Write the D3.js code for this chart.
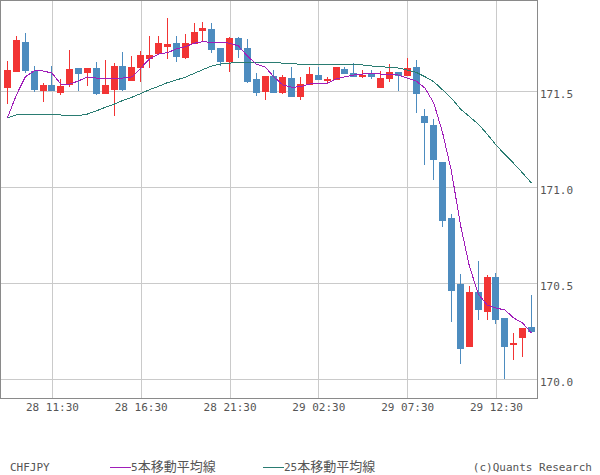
<!DOCTYPE html>
<html><head><meta charset="utf-8">
<script src="https://cdn.jsdelivr.net/npm/d3@7"></script>
<style>body{margin:0;background:#fff;} svg{display:block}</style>
</head><body><svg id="c" width="600" height="475"></svg>
<script>
const opens = [171.515,171.598,171.753,171.602,171.499,171.529,171.489,171.529,171.617,171.591,
171.617,171.482,171.503,171.628,171.550,171.617,171.664,171.690,171.727,171.747,
171.669,171.742,171.810,171.820,171.721,171.649,171.773,171.721,171.560,171.493,
171.576,171.487,171.565,171.467,171.529,171.581,171.555,171.555,171.612,171.591,
171.571,171.591,171.513,171.560,171.597,171.576,171.623,171.368,171.321,171.129,
170.837,170.494,170.167,170.453,170.349,170.531,170.318,170.177,170.213,170.271];
const highs = [171.654,171.784,171.799,171.628,171.539,171.628,171.560,171.711,171.617,171.617,
171.649,171.659,171.643,171.701,171.680,171.706,171.784,171.784,171.877,171.784,
171.794,171.851,171.857,171.851,171.721,171.779,171.779,171.768,171.591,171.576,
171.607,171.581,171.623,171.571,171.623,171.623,171.571,171.623,171.623,171.643,
171.607,171.607,171.602,171.638,171.597,171.669,171.659,171.404,171.352,171.129,
170.858,170.546,170.484,170.614,170.541,170.551,170.318,170.239,170.265,170.437];
const lows = [171.430,171.598,171.593,171.493,171.442,171.499,171.479,171.520,171.499,171.524,
171.477,171.482,171.368,171.499,171.550,171.545,171.617,171.690,171.664,171.649,
171.664,171.742,171.753,171.695,171.628,171.597,171.669,171.539,171.472,171.451,
171.487,171.482,171.467,171.451,171.529,171.555,171.539,171.555,171.586,171.571,
171.565,171.560,171.513,171.545,171.498,171.576,171.383,171.113,171.035,170.791,
170.297,170.078,170.167,170.307,170.307,170.286,170.000,170.099,170.115,170.239];
const closes = [171.607,171.763,171.603,171.503,171.529,171.499,171.524,171.612,171.586,171.617,
171.482,171.529,171.628,171.503,171.623,171.685,171.685,171.747,171.742,171.675,
171.747,171.805,171.825,171.711,171.649,171.773,171.711,171.545,171.487,171.576,
171.487,171.571,171.467,171.534,171.586,171.555,171.560,171.623,171.586,171.571,
171.581,171.571,171.565,171.597,171.576,171.617,171.482,171.331,171.139,170.822,
170.458,170.156,170.453,170.359,170.531,170.307,170.167,170.185,170.265,170.245];
const ma5 = [171.359,171.477,171.571,171.602,171.602,171.591,171.534,171.534,171.550,171.571,
171.565,171.565,171.565,171.565,171.571,171.617,171.664,171.690,171.697,171.716,
171.728,171.746,171.754,171.751,171.749,171.747,171.732,171.680,171.638,171.623,
171.571,171.529,171.517,171.520,171.534,171.539,171.538,171.560,171.572,171.581,
171.586,171.590,171.586,171.586,171.581,171.565,171.550,171.513,171.435,171.279,
171.077,170.801,170.588,170.442,170.385,170.369,170.359,170.317,170.291,170.239];
const ma25 = [171.359,171.373,171.377,171.377,171.375,171.373,171.373,171.368,171.369,171.378,
171.394,171.413,171.429,171.449,171.465,171.484,171.505,171.522,171.541,171.555,
171.569,171.589,171.609,171.628,171.638,171.643,171.645,171.645,171.645,171.645,
171.645,171.643,171.640,171.637,171.633,171.637,171.638,171.638,171.638,171.637,
171.633,171.628,171.624,171.621,171.617,171.607,171.595,171.572,171.546,171.503,
171.460,171.404,171.365,171.326,171.274,171.217,171.168,171.121,171.071,171.019];
const xTickIdx = [5,15,25,35,45,55];
const xTickLabels = ["28 11:30","28 16:30","28 21:30","29 02:30","29 07:30","29 12:30"];
const yTicks = [170.0,170.5,171.0,171.5];
const seriesNames = ["5本移動平均線","25本移動平均線"];
const symbol = "CHFJPY";
const credit = "(c)Quants Research";

const W = 537, H = 398;
const UP = "#f23434", DOWN = "#4d8cbf", C5 = "#a01eb9", C25 = "#2a7c72";
const MONO = "'DejaVu Sans Mono', monospace";
const svg = d3.select("#c");
svg.append("rect").attr("width",600).attr("height",475).attr("fill","#fff");

const x = d3.scaleLinear().domain([0, 59]).range([7.5, 531.5]);
const y = d3.scaleLinear().domain([169.901, 171.971]).range([H, 0]);

// grid
const gx = svg.append("g").attr("transform",`translate(0,${H})`)
  .call(d3.axisBottom(x).tickValues(xTickIdx).tickSize(-H).tickFormat(""));
gx.select(".domain").remove();
gx.selectAll("line").attr("stroke","#cacaca").attr("shape-rendering","crispEdges");
const gy = svg.append("g")
  .call(d3.axisLeft(y).tickValues(yTicks).tickSize(-W).tickFormat(""));
gy.select(".domain").remove();
gy.selectAll("line").attr("stroke","#cacaca").attr("shape-rendering","crispEdges");

// candles
const idx = d3.range(opens.length);
const cg = svg.append("g").attr("shape-rendering","crispEdges");
idx.forEach(i => {
  const o = opens[i], c = closes[i], h = highs[i], l = lows[i];
  const col = c >= o ? UP : DOWN;
  const X = Math.floor(x(i));
  cg.append("rect").attr("x", X).attr("width", 1)
    .attr("y", y(h)).attr("height", Math.max(1, y(l) - y(h))).attr("fill", col);
  const top = y(Math.max(o, c)), bot = y(Math.min(o, c));
  cg.append("rect").attr("x", X - 3).attr("width", 7)
    .attr("y", top).attr("height", Math.max(1.5, bot - top)).attr("fill", col);
});

// moving averages
const line = d3.line().x((d, i) => x(i)).y(d => y(d));
svg.append("path").datum(ma25).attr("d", line).attr("fill","none")
  .attr("stroke", C25).attr("stroke-width", 1).attr("shape-rendering","crispEdges");
svg.append("path").datum(ma5).attr("d", line).attr("fill","none")
  .attr("stroke", C5).attr("stroke-width", 1).attr("shape-rendering","crispEdges");

// frame
svg.append("rect").attr("x",0.5).attr("y",0.5).attr("width",W).attr("height",H)
  .attr("fill","none").attr("stroke","#8a8a8a");

// axes labels
const ay = svg.append("g").attr("transform",`translate(${W},0)`)
  .call(d3.axisRight(y).tickValues(yTicks).tickSize(0).tickPadding(3).tickFormat(d3.format(".1f")));
ay.select(".domain").remove();
ay.attr("font-family", MONO).attr("font-size", 11);
ay.selectAll("text").attr("fill","#555").attr("y", 3);

const ax = svg.append("g").attr("transform",`translate(0,${H})`)
  .call(d3.axisBottom(x).tickValues(xTickIdx).tickSize(0).tickPadding(5.5)
    .tickFormat((d, i) => xTickLabels[i]));
ax.select(".domain").remove();
ax.attr("font-family", MONO).attr("font-size", 11);
ax.selectAll("text").attr("fill","#555");

// legend
const lg = svg.append("g").attr("font-family", MONO).attr("font-size", 11).attr("fill","#555");
lg.append("text").attr("x", 10).attr("y", 471).text(symbol);
const items = [{x:110, c:C5, t:seriesNames[0]}, {x:263, c:C25, t:seriesNames[1]}];
items.forEach(it => {
  lg.append("line").attr("x1", it.x).attr("x2", it.x + 21).attr("y1", 467.5).attr("y2", 467.5)
    .attr("stroke", it.c).attr("shape-rendering","crispEdges");
  const t = lg.append("text").attr("x", it.x + 21).attr("y", 471);
  const m = it.t.match(/^(\d+)(.*)$/);
  t.append("tspan").text(m[1]);
  t.append("tspan").attr("font-family","'Noto Sans CJK JP', sans-serif").attr("font-size", 13).text(m[2]);
});
lg.append("text").attr("x", 592).attr("y", 471).attr("text-anchor","end").text(credit);
</script></body></html>
